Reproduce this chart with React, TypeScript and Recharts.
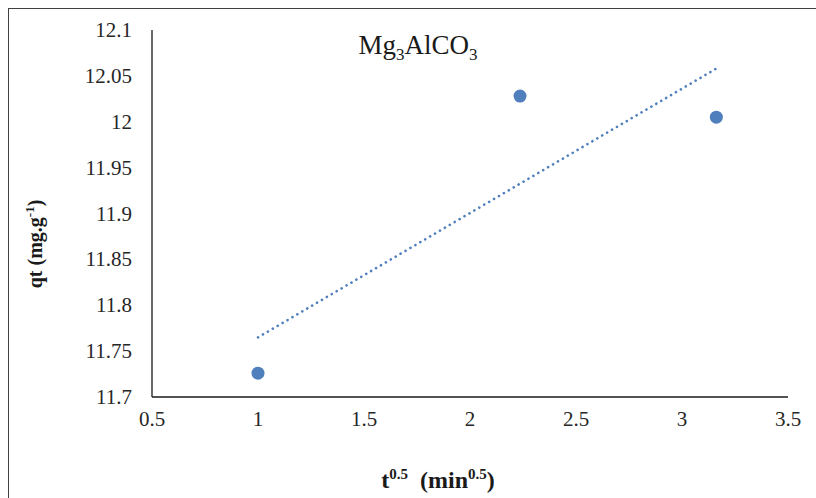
import React from "react";
import { ScatterChart, Scatter, XAxis, YAxis, Label } from "recharts";

// t^0.5 (min^0.5) vs qt (mg/g)
const sqrtTime = [1, 2.236, 3.162];
const qtValues = [11.726, 12.028, 12.005];

// linear trendline endpoints
const trendX = [1, 3.162];
const trendY = [11.765, 12.058];

const xTicks = [0.5, 1, 1.5, 2, 2.5, 3, 3.5];
const yTicks = [11.7, 11.75, 11.8, 11.85, 11.9, 11.95, 12, 12.05, 12.1];

const points = sqrtTime.map((x, i) => ({ x, y: qtValues[i] }));
const trend = trendX.map((x, i) => ({ x, y: trendY[i] }));

const SERIF = "'Liberation Serif', 'Times New Roman', serif";
const BLUE = "#4f7fbc";

const XTick = (props: any) => {
	const { x, y, payload } = props;
	return (
		<text x={x} y={y + 27} textAnchor="middle" fontFamily={SERIF} fontSize={21} fill="#262626">
			{String(payload.value)}
		</text>
	);
};

const YTick = (props: any) => {
	const { y, payload } = props;
	return (
		<text x={132} y={y + 7} textAnchor="end" fontFamily={SERIF} fontSize={21} fill="#262626">
			{String(payload.value)}
		</text>
	);
};

export default function App() {
	return (
		<div
			style={{
				position: "fixed",
				left: 0,
				top: 0,
				width: 816,
				height: 498,
				overflow: "hidden",
				background: "#fff",
				fontFamily: SERIF,
			}}
		>
			<div
				style={{
					position: "absolute",
					left: 8,
					top: 8,
					width: 820,
					height: 500,
					borderLeft: "1.5px solid #404040",
					borderTop: "1.5px solid #404040",
				}}
			/>
			<ScatterChart
				width={816}
				height={498}
				margin={{ top: 30, right: 28, left: 0, bottom: 41 }}
				style={{ position: "absolute", left: 0, top: 0 }}
			>
				<XAxis
					type="number"
					dataKey="x"
					domain={[0.5, 3.5]}
					ticks={xTicks}
					tickLine={false}
					tickSize={0}
					height={60}
					axisLine={{ stroke: "#1a1a1a", strokeWidth: 1.3 }}
					tick={<XTick />}
					allowDataOverflow
				>
					<Label
						content={() => (
							<text x={438} y={488} textAnchor="middle" fontFamily={SERIF} fontWeight="bold" fontSize={24} fill="#1a1a1a">
								t<tspan dy={-9} fontSize={15}>0.5</tspan>
								<tspan dy={9}>{"\u00a0\u00a0"}(min</tspan>
								<tspan dy={-9} fontSize={15}>0.5</tspan>
								<tspan dy={9}>)</tspan>
							</text>
						)}
					/>
				</XAxis>
				<YAxis
					type="number"
					dataKey="y"
					domain={[11.7, 12.1]}
					ticks={yTicks}
					tickLine={false}
					tickSize={0}
					width={152}
					axisLine={{ stroke: "#1a1a1a", strokeWidth: 1.3 }}
					tick={<YTick />}
					allowDataOverflow
				>
					<Label
						content={() => (
							<text
								x={0}
								y={0}
								transform="translate(42, 244) rotate(-90)"
								textAnchor="middle"
								fontFamily={SERIF}
								fontWeight="bold"
								fontSize={20}
								fill="#1a1a1a"
							>
								qt (mg.g<tspan dy={-8} fontSize={13}>-1</tspan>
								<tspan dy={8}>)</tspan>
							</text>
						)}
					/>
				</YAxis>
				<Scatter
					data={trend}
					isAnimationActive={false}
					line={{ stroke: BLUE, strokeWidth: 2.6, strokeDasharray: "0.1 5.6", strokeLinecap: "round" }}
					shape={() => <g />}
				/>
				<Scatter
					data={points}
					isAnimationActive={false}
					fill={BLUE}
					shape={(p: any) => <circle cx={p.cx} cy={p.cy} r={6.5} fill={BLUE} />}
				/>
				<text x={418} y={54} textAnchor="middle" fontFamily={SERIF} fontSize={27} fill="#1a1a1a">
					Mg<tspan dy={6} fontSize={17}>3</tspan>
					<tspan dy={-6}>AlCO</tspan>
					<tspan dy={6} fontSize={17}>3</tspan>
				</text>
			</ScatterChart>
		</div>
	);
}
